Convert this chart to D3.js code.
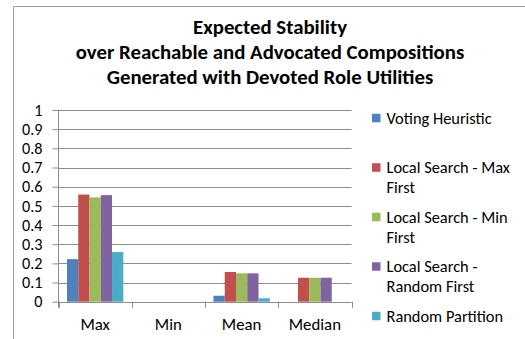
<!DOCTYPE html>
<html>
<head>
<meta charset="utf-8">
<script src="https://cdn.jsdelivr.net/npm/d3@7"></script>
<style>
  html, body { margin: 0; padding: 0; background: #fff; }
  svg { display: block; }
  text { font-family: Calibri, Carlito, Lato, sans-serif; fill: #000; }
</style>
</head>
<body>
<svg id="chart" width="525" height="339"></svg>
<script>
// Summary statistics and the compared composition methods
const categories = ["Max", "Min", "Mean", "Median"];
const seriesNames = [
  "Voting Heuristic",
  "Local Search - Max First",
  "Local Search - Min First",
  "Local Search - Random First",
  "Random Partition"
];
const votingHeuristic   = [0.222, 0, 0.031, 0];
const localSearchMax    = [0.559, 0, 0.155, 0.125];
const localSearchMin    = [0.544, 0, 0.148, 0.125];
const localSearchRandom = [0.556, 0, 0.148, 0.125];
const randomPartition   = [0.259, 0, 0.018, 0];
const yTicks = [0, 0.1, 0.2, 0.3, 0.4, 0.5, 0.6, 0.7, 0.8, 0.9, 1];
const titleLines = [
  "Expected Stability",
  "over Reachable and Advocated Compositions",
  "Generated with Devoted Role Utilities"
];

const seriesValues = [votingHeuristic, localSearchMax, localSearchMin, localSearchRandom, randomPartition];
const colors = ["#4F81BD", "#C0504D", "#9BBB59", "#8064A2", "#4BACC6"];
const labelSize = 16.8;
const legendSize = 16.4;

const svg = d3.select("#chart");

// Chart frame (partially outside the visible area)
svg.append("path")
  .attr("d", "M13.5,339 L13.5,6.5 L525,6.5")
  .attr("fill", "none")
  .attr("stroke", "#a0a0a0")
  .attr("stroke-width", 1);

// Title
svg.append("g").selectAll("text")
  .data(titleLines)
  .join("text")
  .attr("x", 270)
  .attr("y", (d, i) => 34 + i * 25)
  .attr("text-anchor", "middle")
  .attr("font-size", 20.8)
  .attr("font-weight", "bold")
  .text(d => d);

const plot = { left: 58.5, right: 351.5, top: 110, bottom: 301.7 };

const x = d3.scaleBand().domain(categories).range([plot.left, plot.right]).padding(0);
const xs = d3.scaleBand().domain(d3.range(seriesNames.length))
  .range([0, x.bandwidth()]).paddingInner(0).paddingOuter(0.75);
const y = d3.scaleLinear().domain([0, 1]).range([plot.bottom, plot.top]);

// Horizontal gridlines
svg.append("g").selectAll("line")
  .data(yTicks.filter(t => t > 0))
  .join("line")
  .attr("x1", plot.left).attr("x2", plot.right)
  .attr("y1", d => Math.round(y(d)) + 0.5).attr("y2", d => Math.round(y(d)) + 0.5)
  .attr("stroke", "#8c8c8c").attr("stroke-width", 1);

// Bars
const groups = svg.append("g").selectAll("g")
  .data(seriesValues)
  .join("g")
  .attr("fill", (d, i) => colors[i]);

groups.each(function (vals, si) {
  d3.select(this).selectAll("rect")
    .data(vals.map((v, ci) => ({ v, c: categories[ci] })))
    .join("rect")
    .attr("x", d => x(d.c) + xs(si))
    .attr("width", xs.bandwidth())
    .attr("y", d => y(d.v))
    .attr("height", d => y(0) - y(d.v));
});

// Y axis
const yAxis = d3.axisLeft(y).tickValues(yTicks).tickSize(6).tickPadding(10)
  .tickFormat(d3.format("~g"));
const yg = svg.append("g")
  .attr("transform", `translate(${plot.left},0)`)
  .call(yAxis);
yg.select(".domain").remove();
yg.selectAll(".tick line").attr("stroke", "#8c8c8c");
yg.selectAll(".tick text")
  .attr("font-size", 16.2)
  .attr("font-family", "Calibri, Carlito, Lato, sans-serif")
  .attr("fill", "#000");
svg.append("line")
  .attr("x1", plot.left).attr("x2", plot.left)
  .attr("y1", plot.top).attr("y2", plot.bottom + 6)
  .attr("stroke", "#8c8c8c");

// X axis: baseline with ticks between categories
svg.append("line")
  .attr("x1", plot.left).attr("x2", plot.right)
  .attr("y1", Math.round(plot.bottom) + 0.5).attr("y2", Math.round(plot.bottom) + 0.5)
  .attr("stroke", "#8c8c8c");
const boundaries = categories.map(c => x(c)).concat([x(categories[categories.length - 1]) + x.bandwidth()]);
svg.append("g").selectAll("line")
  .data(boundaries)
  .join("line")
  .attr("x1", d => Math.round(d) + 0.5).attr("x2", d => Math.round(d) + 0.5)
  .attr("y1", plot.bottom).attr("y2", plot.bottom + 6)
  .attr("stroke", "#8c8c8c");
svg.append("g").selectAll("text")
  .data(categories)
  .join("text")
  .attr("x", d => x(d) + x.bandwidth() / 2)
  .attr("y", 329.5)
  .attr("text-anchor", "middle")
  .attr("font-size", labelSize)
  .text(d => d);

// Legend with wrapped entries
const legendX = 372, legendTop = 118, legendStep = 49.5, wrapWidth = 140;
const legend = svg.append("g");
seriesNames.forEach((name, i) => {
  const cy = legendTop + i * legendStep;
  legend.append("rect")
    .attr("x", legendX).attr("y", cy - 4.25)
    .attr("width", 8.5).attr("height", 8.5)
    .attr("fill", colors[i]);
  const t = legend.append("text")
    .attr("x", legendX + 14.5)
    .attr("y", cy + 5.8)
    .attr("font-size", legendSize);
  const words = name.split(" ");
  let line = [];
  let tspan = t.append("tspan").attr("x", legendX + 14.5).attr("dy", 0);
  words.forEach(w => {
    line.push(w);
    tspan.text(line.join(" "));
    if (tspan.node().getComputedTextLength() > wrapWidth && line.length > 1) {
      line.pop();
      tspan.text(line.join(" "));
      line = [w];
      tspan = t.append("tspan").attr("x", legendX + 14.5).attr("dy", 20).text(w);
    }
  });
});
</script>
</body>
</html>
